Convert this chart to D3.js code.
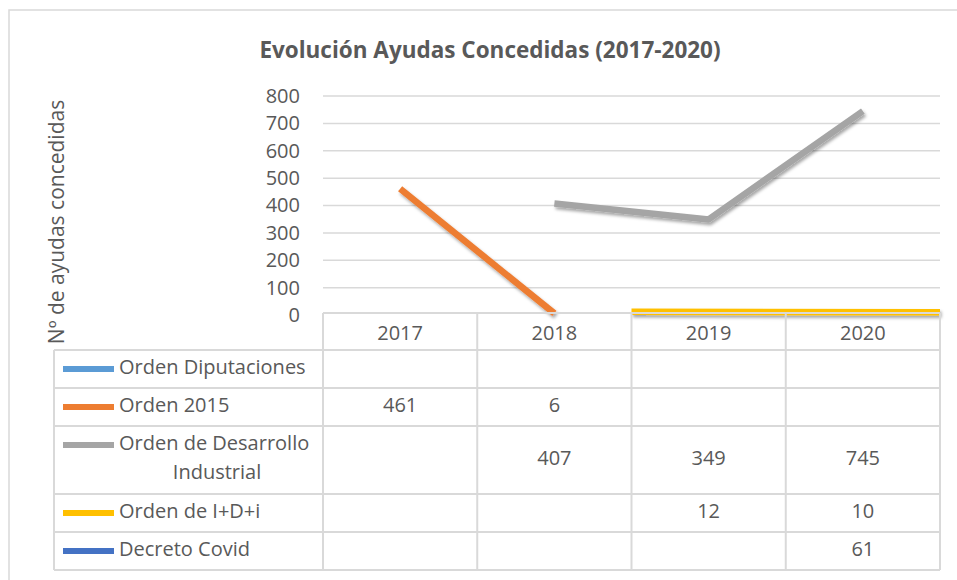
<!DOCTYPE html>
<html>
<head>
<meta charset="utf-8">
<script src="https://cdn.jsdelivr.net/npm/d3@7"></script>
<style>
  body { margin: 0; background: #fff; }
  svg { display: block; font-family: "Open Sans", sans-serif; }
</style>
</head>
<body>
<div id="chart"></div>
<script>
// datos
const years = ["2017", "2018", "2019", "2020"];
const seriesNames = ["Orden Diputaciones", "Orden 2015", "Orden de Desarrollo Industrial", "Orden de I+D+i", "Decreto Covid"];
const ordenDiputaciones = [null, null, null, null];
const orden2015 = [461, 6, null, null];
const desarrolloIndustrial = [null, 407, 349, 745];
const ordenIDi = [null, null, 12, 10];
const decretoCovid = [null, null, null, 61];
const seriesColors = ["#5B9BD5", "#ED7D31", "#A5A5A5", "#FFC000", "#4472C4"];
const yTicks = [0, 100, 200, 300, 400, 500, 600, 700, 800];

const series = [ordenDiputaciones, orden2015, desarrolloIndustrial, ordenIDi, decretoCovid]
  .map((vals, i) => ({ name: seriesNames[i], color: seriesColors[i], values: vals }));

const W = 957, H = 580;
const TXT = "#595959", GRID = "#D9D9D9";
const FS = 20;

const svg = d3.select("#chart").append("svg").attr("width", W).attr("height", H);

// sombra tipo Excel
svg.append("defs").append("filter")
  .attr("id", "shadow").attr("x", "-10%").attr("y", "-10%").attr("width", "130%").attr("height", "130%")
  .append("feDropShadow")
    .attr("dx", 1.5).attr("dy", 2.5).attr("stdDeviation", 1.5)
    .attr("flood-color", "#000").attr("flood-opacity", 0.35);

// marco del gráfico
svg.append("rect")
  .attr("x", 9).attr("y", 10).attr("width", W + 20).attr("height", H + 20)
  .attr("fill", "none").attr("stroke", GRID).attr("stroke-width", 1.5);

// título
svg.append("text")
  .attr("x", 490).attr("y", 58)
  .attr("text-anchor", "middle")
  .attr("font-size", 22.5).attr("font-weight", 700)
  .attr("fill", TXT)
  .text("Evolución Ayudas Concedidas (2017-2020)");

// escalas
const x = d3.scaleBand().domain(years).range([323, 940]);
const y = d3.scaleLinear().domain([0, 800]).range([315, 96]);

// rejilla
svg.append("g").selectAll("line")
  .data(yTicks.filter(d => d > 0))
  .join("line")
    .attr("x1", x.range()[0]).attr("x2", x.range()[1])
    .attr("y1", d => y(d)).attr("y2", d => y(d))
    .attr("stroke", GRID).attr("stroke-width", 1.5);

// eje Y
const yAxis = svg.append("g")
  .attr("transform", `translate(${x.range()[0]},0)`)
  .call(d3.axisLeft(y).tickValues(yTicks).tickSize(0).tickPadding(23));
yAxis.select(".domain").remove();
yAxis.selectAll("text")
  .attr("font-family", "Open Sans, sans-serif")
  .attr("font-size", FS).attr("fill", TXT);

// título eje Y
svg.append("text")
  .attr("transform", "translate(64,222) rotate(-90)")
  .attr("text-anchor", "middle")
  .attr("font-size", 21).attr("fill", TXT)
  .text("Nº de ayudas concedidas");

// líneas
const line = d3.line()
  .defined(d => d.v != null)
  .x(d => d.x)
  .y(d => y(d.v));

const pts = s => s.values.map((v, i) => {
  // la serie I+D+i se pinta de borde a borde de su categoría, como en el original
  let px = x(years[i]) + x.bandwidth() / 2;
  if (s.name === "Orden de I+D+i") {
    const idx = s.values.map((d, j) => d != null ? j : -1).filter(j => j >= 0);
    if (i === idx[0]) px = x(years[i]);
    if (i === idx[idx.length - 1]) px = x(years[i]) + x.bandwidth();
  }
  return { x: px, v: v };
});

svg.append("g").attr("filter", "url(#shadow)")
  .selectAll("path")
  .data(series)
  .join("path")
    .attr("d", s => line(pts(s)))
    .attr("fill", "none")
    .attr("stroke", s => s.color)
    .attr("stroke-width", 6.5)
    .attr("stroke-linejoin", "round");

// tabla de datos
const tableLeft = 54;
const headTop = 313, headH = 37;
const rowH = [38, 38, 68, 38, 38];
const rowTop = rowH.reduce((acc, h, i) => { acc.push(i ? acc[i - 1] + rowH[i - 1] : headTop + headH); return acc; }, []);
const tableBottom = rowTop[rowTop.length - 1] + rowH[rowH.length - 1];

const tbl = svg.append("g");

// bordes
const hl = [headTop, ...rowTop, tableBottom];
tbl.selectAll("line.h")
  .data(hl)
  .join("line")
    .attr("class", "h")
    .attr("x1", (d, i) => i === 0 ? x.range()[0] : tableLeft)
    .attr("x2", x.range()[1])
    .attr("y1", d => d).attr("y2", d => d)
    .attr("stroke", GRID).attr("stroke-width", 2);

const vl = [tableLeft, ...years.map(d => x(d)), x.range()[1]];
tbl.selectAll("line.v")
  .data(vl)
  .join("line")
    .attr("class", "v")
    .attr("x1", d => d).attr("x2", d => d)
    .attr("y1", (d, i) => i === 0 ? headTop + headH : headTop)
    .attr("y2", tableBottom)
    .attr("stroke", GRID).attr("stroke-width", 2);

// cabecera (años)
tbl.selectAll("text.year")
  .data(years)
  .join("text")
    .attr("class", "year")
    .attr("x", d => x(d) + x.bandwidth() / 2)
    .attr("y", headTop + headH / 2 + 3)
    .attr("text-anchor", "middle").attr("dominant-baseline", "middle")
    .attr("font-size", FS).attr("fill", TXT)
    .text(d => d);

// filas
series.forEach((s, i) => {
  const top = rowTop[i], h = rowH[i];
  const g = tbl.append("g");
  const twoLines = s.name === "Orden de Desarrollo Industrial";
  const firstY = twoLines ? top + 19 : top + h / 2;

  g.append("line")
    .attr("x1", 63).attr("x2", 114)
    .attr("y1", firstY).attr("y2", firstY)
    .attr("stroke", s.color).attr("stroke-width", 6);

  if (twoLines) {
    g.append("text")
      .attr("x", 119).attr("y", firstY)
      .attr("dominant-baseline", "middle")
      .attr("font-size", FS).attr("fill", TXT)
      .text("Orden de Desarrollo");
    g.append("text")
      .attr("x", 217).attr("y", top + 48)
      .attr("text-anchor", "middle").attr("dominant-baseline", "middle")
      .attr("font-size", FS).attr("fill", TXT)
      .text("Industrial");
  } else {
    g.append("text")
      .attr("x", 119).attr("y", firstY)
      .attr("dominant-baseline", "middle")
      .attr("font-size", FS).attr("fill", TXT)
      .text(s.name);
  }

  g.selectAll("text.val")
    .data(s.values.map((v, j) => ({ v, yr: years[j] })).filter(d => d.v != null))
    .join("text")
      .attr("class", "val")
      .attr("x", d => x(d.yr) + x.bandwidth() / 2)
      .attr("y", top + h / 2)
      .attr("text-anchor", "middle").attr("dominant-baseline", "middle")
      .attr("font-size", FS).attr("fill", TXT)
      .text(d => d.v);
});
</script>
</body>
</html>
